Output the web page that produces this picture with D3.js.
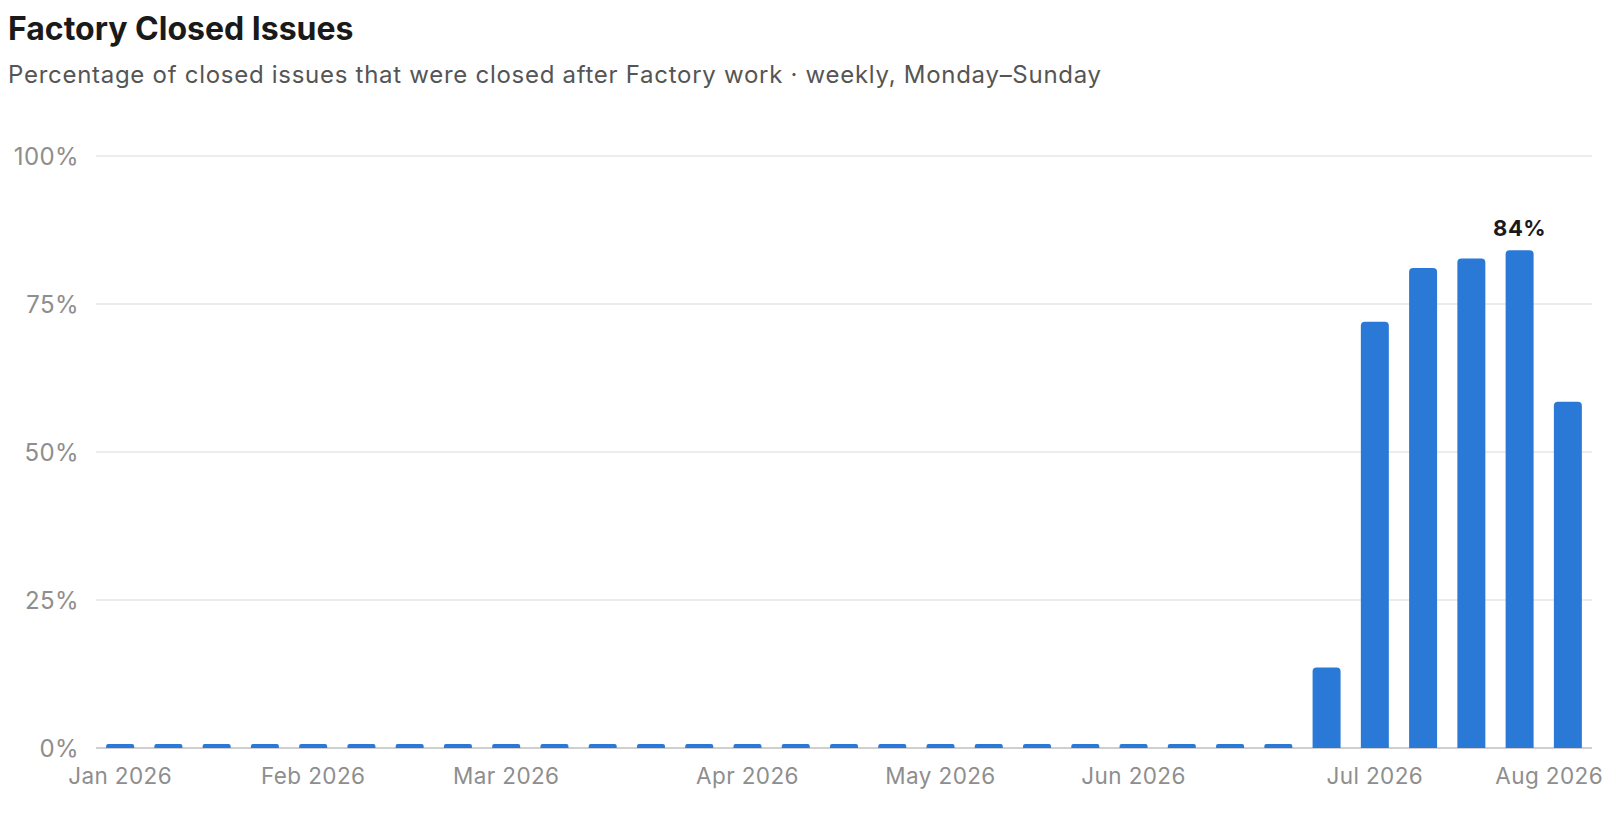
<!DOCTYPE html>
<html>
<head>
<meta charset="utf-8">
<script src="https://cdn.jsdelivr.net/npm/d3@7"></script>
<style>
  html, body { margin: 0; padding: 0; background: #fff; }
  svg { display: block; font-family: Inter, "Noto Sans", sans-serif; }
</style>
</head>
<body>
<div id="chart"></div>
<script>
// chart text
var title = "Factory Closed Issues";
var subtitle = "Percentage of closed issues that were closed after Factory work \u00b7 weekly, Monday\u2013Sunday";

// week start dates (Monday)
var weeks = [
  "2026-01-05", "2026-01-12", "2026-01-19", "2026-01-26",
  "2026-02-02", "2026-02-09", "2026-02-16", "2026-02-23",
  "2026-03-02", "2026-03-09", "2026-03-16", "2026-03-23", "2026-03-30",
  "2026-04-06", "2026-04-13", "2026-04-20", "2026-04-27",
  "2026-05-04", "2026-05-11", "2026-05-18", "2026-05-25",
  "2026-06-01", "2026-06-08", "2026-06-15", "2026-06-22", "2026-06-29",
  "2026-07-06", "2026-07-13", "2026-07-20", "2026-07-27",
  "2026-08-03"
];

// % of closed issues closed after Factory work
var pct = [
  0, 0, 0, 0,
  0, 0, 0, 0,
  0, 0, 0, 0, 0,
  0, 0, 0, 0,
  0, 0, 0, 0,
  0, 0, 0, 0, 13.6,
  72.0, 81.1, 82.7, 84.1,
  58.5
];

// y ticks
var yTicks = [0, 25, 50, 75, 100];

// svg size
var width = 1616, height = 816;
var margin = {top: 156, right: 24, bottom: 68, left: 96};

var svg = d3.select("#chart")
            .append("svg")
            .attr("width", width)
            .attr("height", height);

var parse = d3.timeParse("%Y-%m-%d");
var fmtMonth = d3.timeFormat("%b %Y");

var x = d3.scaleBand()
          .domain(weeks)
          .range([margin.left, width - margin.right])
          .paddingInner(0.42)
          .paddingOuter(0.21);

var y = d3.scaleLinear()
          .domain([0, 100])
          .range([height - margin.bottom, margin.top]);

// title + subtitle
svg.append("text")
    .attr("x", 8)
    .attr("y", 40)
    .attr("font-size", 32)
    .attr("font-weight", 700)
    .attr("fill", "#1a1a1a")
    .text(title);

svg.append("text")
    .attr("x", 8)
    .attr("y", 83)
    .attr("font-size", 24)
    .attr("letter-spacing", 0.72)
    .attr("fill", "#555")
    .text(subtitle);

// grid lines
svg.append("g")
    .selectAll("line")
    .data(yTicks)
    .enter()
        .append("line")
        .attr("x1", margin.left)
        .attr("x2", width - margin.right)
        .attr("y1", function(d){ return y(d); })
        .attr("y2", function(d){ return y(d); })
        .attr("stroke", function(d){ return d == 0 ? "#cfcfcf" : "#e6e6e6"; })
        .attr("stroke-width", function(d){ return d == 0 ? 2 : 1.5; });

// y axis labels
svg.append("g")
    .selectAll("text")
    .data(yTicks)
    .enter()
        .append("text")
        .attr("x", 79)
        .attr("y", function(d){ return y(d); })
        .attr("dy", "0.36em")
        .attr("text-anchor", "end")
        .attr("font-size", 24)
        .attr("letter-spacing", 0.4)
        .attr("fill", "#8e8e8e")
        .text(function(d){ return d + "%"; });

// bars, rounded top corners only
var minH = 4, r = 4;
function barPath(d, i){
    var x0 = x(weeks[i]), w = x.bandwidth();
    var y0 = y(0);
    var h = Math.max(y0 - y(d), minH);
    var rr = Math.min(r, h / 2);
    var top = y0 - h;
    return "M" + x0 + "," + y0 +
           "V" + (top + rr) +
           "Q" + x0 + "," + top + " " + (x0 + rr) + "," + top +
           "H" + (x0 + w - rr) +
           "Q" + (x0 + w) + "," + top + " " + (x0 + w) + "," + (top + rr) +
           "V" + y0 + "Z";
}

svg.append("g")
    .selectAll("path")
    .data(pct)
    .enter()
        .append("path")
        .attr("d", barPath)
        .attr("fill", "#2b79d6");

// label on the highest bar
var maxI = d3.maxIndex(pct);
svg.append("text")
    .attr("x", x(weeks[maxI]) + x.bandwidth() / 2)
    .attr("y", y(pct[maxI]) - 14)
    .attr("text-anchor", "middle")
    .attr("font-size", 22)
    .attr("font-weight", 700)
    .attr("letter-spacing", 0.5)
    .attr("fill", "#1a1a1a")
    .text(Math.round(pct[maxI]) + "%");

// month labels on the first week of each month
var monthTicks = weeks.filter(function(w, i){
    return i == 0 || parse(w).getMonth() != parse(weeks[i - 1]).getMonth();
});

var xLabels = svg.append("g")
    .selectAll("text")
    .data(monthTicks)
    .enter()
        .append("text")
        .attr("x", function(d){ return x(d) + x.bandwidth() / 2; })
        .attr("y", 784)
        .attr("text-anchor", "middle")
        .attr("font-size", 22.5)
        .attr("letter-spacing", 0.4)
        .attr("fill", "#8e8e8e")
        .text(function(d){ return fmtMonth(parse(d)); });

// keep labels inside the right edge
var xLimit = width - margin.right + 11;
xLabels.each(function(){
    var b = this.getBBox();
    if (b.x + b.width > xLimit)
        d3.select(this).attr("text-anchor", "end").attr("x", xLimit);
});
</script>
</body>
</html>
